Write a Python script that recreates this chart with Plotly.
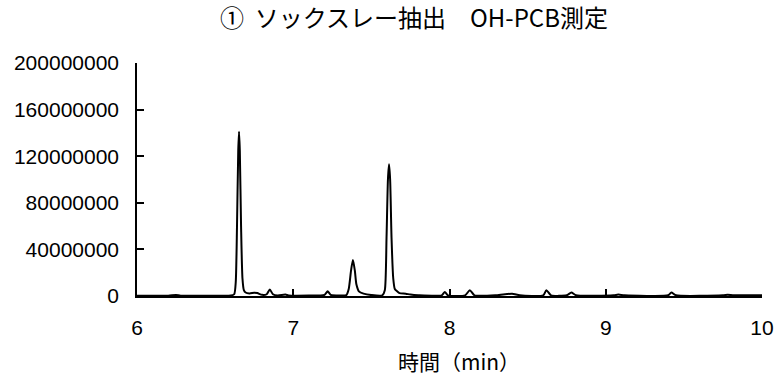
import plotly.graph_objects as go

# Retention time (min)
time_min = [
    6.00, 6.20, 6.25, 6.28, 6.50, 6.60, 6.622, 6.632, 6.640, 6.648, 6.653, 6.658,
    6.666, 6.675, 6.684, 6.695, 6.72, 6.75, 6.77, 6.80, 6.83, 6.85, 6.87, 6.90,
    6.95, 6.97, 7.10, 7.20, 7.22, 7.24, 7.30, 7.34, 7.355, 7.370, 7.382, 7.394,
    7.404, 7.42, 7.45, 7.50, 7.57, 7.586, 7.597, 7.606, 7.613, 7.620, 7.629, 7.640,
    7.650, 7.665, 7.68, 7.72, 7.75, 7.80, 7.95, 7.97, 7.99, 8.10, 8.13, 8.16,
    8.30, 8.40, 8.45, 8.60, 8.62, 8.65, 8.75, 8.78, 8.81, 9.05, 9.08, 9.12,
    9.40, 9.42, 9.45, 9.75, 9.78, 9.82, 10.0,
]
# Intensity (counts)
intensity = [
    300000, 300000, 800000, 300000, 300000, 400000, 1500000, 12000000, 60000000,
    125000000, 141000000, 125000000, 60000000, 15000000, 5000000, 3000000,
    2200000, 2800000, 2500000, 1000000, 1500000, 5500000, 1500000, 500000,
    1200000, 500000, 400000, 1000000, 4000000, 1000000, 500000, 800000, 6000000,
    22000000, 31000000, 22000000, 10000000, 4000000, 2000000, 800000, 600000,
    5000000, 50000000, 100000000, 113000000, 100000000, 50000000, 15000000,
    6000000, 4000000, 2500000, 2000000, 1200000, 600000, 600000, 3500000, 600000,
    600000, 5000000, 600000, 600000, 2000000, 600000, 600000, 5000000, 600000,
    600000, 3000000, 600000, 600000, 1200000, 600000, 600000, 3000000, 600000,
    600000, 1000000, 600000, 600000,
]

x_ticks = [6, 7, 8, 9, 10]
y_ticks = [0, 40000000, 80000000, 120000000, 160000000, 200000000]
y_tick_labels = ["0", "40000000", "80000000", "120000000", "160000000", "200000000"]

title_text = "①  ソックスレー抽出　OH-PCB測定"
x_title = "時間（min）"

font_family = "Liberation Sans, Arial, Noto Sans CJK JP"
cjk_family = "Noto Sans CJK JP, Liberation Sans"

fig = go.Figure()
fig.add_trace(go.Scatter(
    x=time_min, y=intensity, mode="lines",
    line=dict(color="black", width=2, shape="spline", smoothing=0.6),
    showlegend=False,
))

fig.add_annotation(
    text=x_title, xref="paper", yref="paper",
    x=(459 - 137) / 625, xanchor="center",
    y=-(361 - 296) / 233, yanchor="middle",
    showarrow=False,
    font=dict(family=cjk_family, size=21, color="black"),
)

fig.update_layout(
    width=778, height=376,
    margin=dict(l=137, r=16, t=63, b=80, autoexpand=False),
    paper_bgcolor="white", plot_bgcolor="white",
    font=dict(family=font_family, color="black", size=21),
    title=dict(
        text=title_text, xref="container", yref="container",
        x=414 / 778, xanchor="center", y=1 - 19 / 376, yanchor="middle",
        font=dict(family=cjk_family, size=24, color="black"),
    ),
    xaxis=dict(
        range=[6, 10], tickmode="array", tickvals=x_ticks,
        ticks="inside", ticklen=7, tickwidth=1.5, tickcolor="black",
        showline=True, linecolor="black", linewidth=1.5,
        showgrid=False, zeroline=False, automargin=False,
        ticklabelstandoff=12,
        tickfont=dict(size=21, family=font_family),
    ),
    yaxis=dict(
        range=[0, 200000000], tickmode="array", tickvals=y_ticks,
        ticktext=y_tick_labels,
        ticks="inside", ticklen=7, tickwidth=1.5, tickcolor="black",
        showline=True, linecolor="black", linewidth=1.5,
        showgrid=False, zeroline=False, automargin=False,
        ticklabelstandoff=12,
        tickfont=dict(size=21, family=font_family),
    ),
)

fig.write_html(
    "out.html",
    config={"displayModeBar": False},
    post_script="document.body.style.margin='0';document.body.style.overflow='hidden';",
)
